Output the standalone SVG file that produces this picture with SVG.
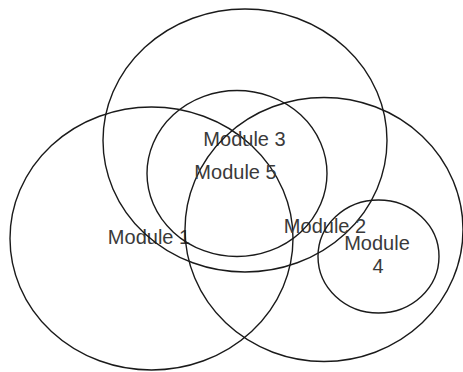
<svg xmlns="http://www.w3.org/2000/svg" width="463" height="372" viewBox="0 0 463 372">
  <style>
    .set { fill: none; stroke: #1a1a1a; stroke-width: 1.4; }
    .lbl { font-family: "Liberation Sans", Arial, sans-serif; font-size: 20px; fill: #3a3a3a; text-anchor: middle; }
  </style>
  <rect width="463" height="372" fill="#ffffff"/>
  <g id="module1">
    <ellipse class="set" cx="151.5" cy="238.5" rx="141.5" ry="131.5"/>
    <text class="lbl" x="149" y="244">Module 1</text>
  </g>
  <g id="module3">
    <ellipse class="set" cx="245" cy="140.5" rx="142" ry="131.5"/>
    <text class="lbl" x="244.5" y="146">Module 3</text>
  </g>
  <g id="module2">
    <ellipse class="set" cx="324" cy="229.5" rx="139" ry="132"/>
    <text class="lbl" x="325" y="233">Module 2</text>
  </g>
  <g id="module5">
    <ellipse class="set" cx="237" cy="173.5" rx="90" ry="83"/>
    <text class="lbl" x="235.5" y="179">Module 5</text>
  </g>
  <g id="module4">
    <ellipse class="set" cx="378.5" cy="256.5" rx="60.5" ry="56.5"/>
    <text class="lbl" x="377" y="250">Module</text>
    <text class="lbl" x="378" y="273">4</text>
  </g>
  <g id="connectors"/>
</svg>
